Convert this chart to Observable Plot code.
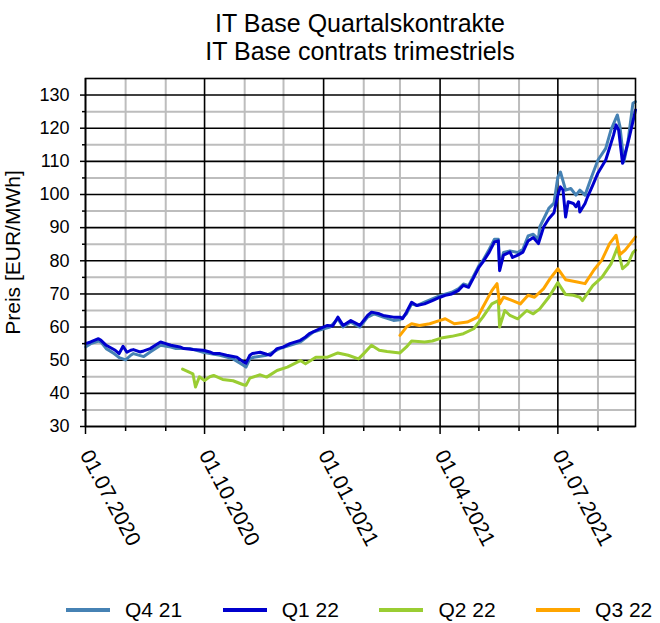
<!DOCTYPE html>
<html>
<head>
<meta charset="utf-8">
<script src="https://cdn.jsdelivr.net/npm/d3@7"></script>
<script src="https://cdn.jsdelivr.net/npm/@observablehq/plot@0.6"></script>
<style>
  html, body { margin: 0; padding: 0; background: #fff; }
  body { width: 660px; height: 623px; overflow: hidden; font-family: "Liberation Sans", Arial, sans-serif; color: #000; }
  #title { position: relative; height: 70px; width: 660px; }
  #title div { position: absolute; left: 60px; width: 600px; text-align: center; font-size: 25px; line-height: 28px; white-space: nowrap; }
  #chart { height: 520px; }
  #legend { position: relative; height: 33px; width: 660px; }
  .lg-line { position: absolute; height: 4px; width: 44px; top: 18px; }
  .lg-text { position: absolute; top: 8px; font-size: 21px; line-height: 24px; white-space: nowrap; }
</style>
</head>
<body>
<div id="title"></div>
<div id="chart"></div>
<div id="legend"></div>
<script>
const titleLines = ["IT Base Quartalskontrakte", "IT Base contrats trimestriels"];
const yLabel = "Preis [EUR/MWh]";
const seriesNames = ["Q4 21", "Q1 22", "Q2 22", "Q3 22"];
const seriesColors = ["steelblue", "#0000cd", "yellowgreen", "orange"];
const yMajorTicks = [30, 40, 50, 60, 70, 80, 90, 100, 110, 120, 130];
const yMinorTicks = [35, 45, 55, 65, 75, 85, 95, 105, 115, 125];
const xStart = "2020-07-01";
const xEnd = "2021-08-30";

const q4Dates = ["2020-07-01","2020-07-05","2020-07-11","2020-07-13","2020-07-17","2020-07-23","2020-07-27","2020-08-01","2020-08-05","2020-08-07","2020-08-15","2020-08-20","2020-08-28","2020-09-05","2020-09-09","2020-09-20","2020-09-30","2020-10-05","2020-10-13","2020-10-23","2020-10-31","2020-11-02","2020-11-05","2020-11-08","2020-11-18","2020-11-28","2020-12-06","2020-12-14","2020-12-24","2021-01-01","2021-01-06","2021-01-12","2021-01-16","2021-01-22","2021-01-29","2021-02-04","2021-02-09","2021-02-16","2021-02-24","2021-03-01","2021-03-06","2021-03-10","2021-03-14","2021-03-20","2021-03-26","2021-04-01","2021-04-10","2021-04-15","2021-04-19","2021-04-23","2021-04-27","2021-05-01","2021-05-04","2021-05-09","2021-05-13","2021-05-16","2021-05-17","2021-05-20","2021-05-25","2021-05-31","2021-06-04","2021-06-08","2021-06-12","2021-06-16","2021-06-17","2021-06-24","2021-06-28","2021-07-01","2021-07-03","2021-07-07","2021-07-11","2021-07-15","2021-07-18","2021-07-22","2021-07-27","2021-08-01","2021-08-07","2021-08-11","2021-08-16","2021-08-18","2021-08-21","2021-08-24","2021-08-28","2021-08-30"];
const q4Values = [54,55,55.8,55.5,53.5,52,50.8,50.1,51.5,52,51.1,52.5,54.5,54,53.5,53.5,52.4,52,51.5,50.4,48.5,47.9,50.5,50.9,51.5,53.5,54.5,55.5,58.5,59.5,60,62.5,60,61.5,60,63,64,63,62,62.2,64,67,66.5,67.5,68.5,69.5,70.5,71.5,73,72.5,75.5,78.5,80,83.5,86.5,86.5,78,82.5,83,82.5,83.5,87.5,88,86.5,90.2,95.8,97.4,105.3,106.8,101.3,101.8,99.8,101.3,99.8,105.3,110.4,113.9,119.4,124,120.5,109.8,115.4,127.5,128];

const q1Dates = ["2020-07-01","2020-07-05","2020-07-11","2020-07-13","2020-07-17","2020-07-24","2020-07-27","2020-07-30","2020-08-02","2020-08-05","2020-08-07","2020-08-12","2020-08-15","2020-08-20","2020-08-24","2020-08-28","2020-09-01","2020-09-05","2020-09-12","2020-09-15","2020-09-22","2020-09-30","2020-10-05","2020-10-08","2020-10-13","2020-10-18","2020-10-26","2020-10-31","2020-11-02","2020-11-05","2020-11-07","2020-11-13","2020-11-18","2020-11-21","2020-11-26","2020-12-01","2020-12-06","2020-12-14","2020-12-18","2020-12-21","2020-12-29","2021-01-04","2021-01-08","2021-01-12","2021-01-16","2021-01-22","2021-01-29","2021-02-04","2021-02-07","2021-02-13","2021-02-16","2021-02-24","2021-03-01","2021-03-03","2021-03-06","2021-03-10","2021-03-14","2021-03-20","2021-03-26","2021-04-01","2021-04-05","2021-04-10","2021-04-15","2021-04-19","2021-04-23","2021-04-27","2021-05-01","2021-05-04","2021-05-09","2021-05-13","2021-05-16","2021-05-17","2021-05-20","2021-05-25","2021-05-27","2021-05-31","2021-06-04","2021-06-08","2021-06-12","2021-06-16","2021-06-20","2021-06-24","2021-06-28","2021-07-01","2021-07-03","2021-07-05","2021-07-07","2021-07-09","2021-07-13","2021-07-15","2021-07-17","2021-07-18","2021-07-22","2021-07-24","2021-07-28","2021-08-01","2021-08-07","2021-08-11","2021-08-13","2021-08-15","2021-08-17","2021-08-20","2021-08-22","2021-08-25","2021-08-28","2021-08-30"];
const q1Values = [55,55.5,56.5,56,54.5,53,52,54.2,52.4,53,53.2,52.5,52.8,53.5,54.5,55.5,55,54.5,54,53.5,53.2,53,52.5,52,52,51.5,50.9,49.5,49.1,51.5,52,52.4,51.8,51.5,53.5,54,55,56,57,58,59.5,60.5,60.3,63,60.5,62,60.5,63.5,64.5,64,63.5,63,63,62.5,64.5,67.5,66.5,67,68,69,69.6,70,71,72.6,72,75,78,79.6,82.6,85.7,86,77,81.7,82.6,81,81.7,82.6,86,87,85.2,90.2,92.7,94.5,99.8,102.3,101.3,93.2,97.8,97.3,96.3,97.8,94.7,97.3,99.3,102.8,106.5,110.4,115.4,117.9,121,119.4,109.4,112.4,116.9,122,125.5];

const q2Dates = ["2020-09-14","2020-09-22","2020-09-24","2020-09-27","2020-10-01","2020-10-05","2020-10-08","2020-10-15","2020-10-23","2020-10-31","2020-11-02","2020-11-05","2020-11-13","2020-11-18","2020-11-26","2020-12-04","2020-12-14","2020-12-18","2020-12-26","2021-01-04","2021-01-12","2021-01-20","2021-01-28","2021-02-01","2021-02-07","2021-02-13","2021-02-19","2021-03-01","2021-03-06","2021-03-10","2021-03-20","2021-03-26","2021-04-03","2021-04-10","2021-04-19","2021-04-27","2021-05-04","2021-05-11","2021-05-16","2021-05-17","2021-05-21","2021-05-25","2021-05-31","2021-06-07","2021-06-12","2021-06-17","2021-06-24","2021-07-01","2021-07-07","2021-07-13","2021-07-18","2021-07-20","2021-07-28","2021-08-04","2021-08-11","2021-08-16","2021-08-20","2021-08-24","2021-08-28","2021-08-30"];
const q2Values = [47.3,45.9,41.9,45,43.9,45,45.4,44.2,43.8,42.6,42.4,44.6,45.6,44.9,46.9,47.9,49.9,48.9,50.9,50.9,52.2,51.5,50.4,52,54.5,53,52.6,52.2,54,55.8,55.5,55.8,56.8,57.2,58,59.5,63,67,68,60,65,63.5,62.5,65,64,65.5,69,73.4,69.8,69.6,69,68,72.5,75,79,84,77.6,79,82.5,83.2];

const q3Dates = ["2021-03-01","2021-03-06","2021-03-10","2021-03-16","2021-03-24","2021-04-01","2021-04-05","2021-04-12","2021-04-22","2021-04-30","2021-05-04","2021-05-11","2021-05-15","2021-05-17","2021-05-20","2021-05-27","2021-06-02","2021-06-08","2021-06-13","2021-06-20","2021-06-25","2021-07-01","2021-07-07","2021-07-16","2021-07-22","2021-07-29","2021-08-04","2021-08-10","2021-08-15","2021-08-18","2021-08-22","2021-08-26","2021-08-30"];
const q3Values = [57.5,60,61,60.5,61,62,62.5,61,61.5,63,66,71,73.1,67,69,68,67,69.6,69,71.6,74.6,77.6,74.3,73.6,73.1,77.3,80.2,85.2,87.7,81.9,83.2,85.2,87.2];

const seriesDates = [q4Dates, q1Dates, q2Dates, q3Dates];
const seriesValues = [q4Values, q1Values, q2Values, q3Values];

const data = seriesNames.flatMap((name, s) =>
  seriesDates[s].map((d, i) => ({date: new Date(d), value: seriesValues[s][i], series: name})));

const t0 = new Date(xStart), t1 = new Date(xEnd);
const months = d3.utcMonth.range(t0, d3.utcDay.offset(t1, 1));
const quarters = months.filter(d => d.getUTCMonth() % 3 === 0);
const minorMonths = months.filter(d => d.getUTCMonth() % 3 !== 0);
const fmt = d3.utcFormat("%d.%m.%Y");

// title
const titleEl = document.getElementById("title");
titleLines.forEach((t, i) => {
  const div = document.createElement("div");
  div.textContent = t;
  div.style.top = (9 + i * 28) + "px";
  titleEl.appendChild(div);
});

const chart = Plot.plot({
  width: 660,
  height: 520,
  marginLeft: 85,
  marginRight: 25,
  marginTop: 8,
  marginBottom: 164,
  style: {fontFamily: "'Liberation Sans', Arial, sans-serif", background: "white", color: "#000", overflow: "visible"},
  x: {type: "utc", domain: [t0, t1], label: null},
  y: {domain: [30, 135], label: null},
  color: {domain: seriesNames, range: seriesColors},
  marks: [
    Plot.gridY(yMinorTicks, {stroke: "#bdbdbd", strokeOpacity: 1, strokeWidth: 2}),
    Plot.gridX(minorMonths, {stroke: "#bdbdbd", strokeOpacity: 1, strokeWidth: 2}),
    Plot.gridY(yMajorTicks, {stroke: "#000", strokeOpacity: 1, strokeWidth: 1.6}),
    Plot.gridX(quarters, {stroke: "#000", strokeOpacity: 1, strokeWidth: 1.6}),
    Plot.line(data, {x: "date", y: "value", z: "series", stroke: "series", strokeWidth: 3}),
    Plot.frame({stroke: "#000", strokeWidth: 1.6}),
    Plot.axisY(yMajorTicks, {tickSize: 5, tickPadding: 11, fontSize: 18, strokeWidth: 1.5, label: null}),
    Plot.axisY(yMajorTicks, {tickSize: 0, tickFormat: () => "", fontSize: 21,
      label: yLabel, labelAnchor: "center", labelOffset: 80, labelArrow: "none"}),
    Plot.axisY(yMinorTicks, {tickSize: 3, strokeWidth: 1.5, tickFormat: () => "", label: null}),
    Plot.axisX(quarters, {tickSize: 8, strokeWidth: 1.5, tickRotate: 62, tickPadding: 17, fontSize: 21,
      tickFormat: fmt, label: null}),
    Plot.axisX(minorMonths, {tickSize: 5, strokeWidth: 1.5, tickFormat: () => "", label: null})
  ]
});
document.getElementById("chart").appendChild(chart);

// legend
const lg = document.getElementById("legend");
seriesNames.forEach((name, i) => {
  const line = document.createElement("div");
  line.className = "lg-line";
  line.style.left = (66 + i * 156.7) + "px";
  line.style.background = seriesColors[i];
  lg.appendChild(line);
  const txt = document.createElement("div");
  txt.className = "lg-text";
  txt.style.left = (125 + i * 156.7) + "px";
  txt.textContent = name;
  lg.appendChild(txt);
});
</script>
</body>
</html>
